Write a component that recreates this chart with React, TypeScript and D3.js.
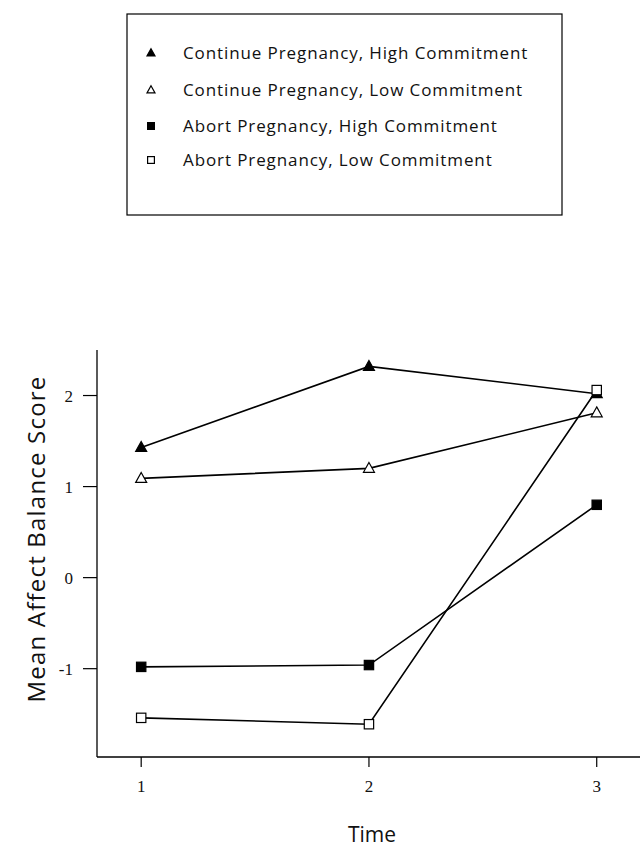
import React from 'react'
import * as d3 from 'd3'

// time points on the x axis
const times = [1, 2, 3]
const xTicks = [1, 2, 3]
const yTicks = [-1, 0, 1, 2]

// mean affect balance score per group
const continueHigh = [1.43, 2.32, 2.02]
const continueLow = [1.09, 1.20, 1.81]
const abortHigh = [-0.98, -0.96, 0.80]
const abortLow = [-1.54, -1.61, 2.06]

const seriesNames = [
    'Continue Pregnancy, High Commitment',
    'Continue Pregnancy, Low Commitment',
    'Abort Pregnancy, High Commitment',
    'Abort Pregnancy, Low Commitment',
]

const series = [
    { name: seriesNames[0], values: continueHigh, shape: 'triangle', filled: true },
    { name: seriesNames[1], values: continueLow, shape: 'triangle', filled: false },
    { name: seriesNames[2], values: abortHigh, shape: 'square', filled: true },
    { name: seriesNames[3], values: abortLow, shape: 'square', filled: false },
]

const Marker = ({ x, y, shape, filled, size }) => {
    const fill = filled ? '#000' : '#fff'
    if (shape === 'triangle') {
        const h = size * 0.9
        const pts = `${x},${y - h * 0.6} ${x + size / 2},${y + h * 0.4} ${x - size / 2},${y + h * 0.4}`
        return <polygon points={pts} fill={fill} stroke="#000" strokeWidth={1.2} />
    }
    const s = size * 0.85
    return <rect x={x - s / 2} y={y - s / 2} width={s} height={s} fill={fill} stroke="#000" strokeWidth={1.2} />
}

const App = () => {
    const width = 642
    const height = 848

    const axisLeft = 97
    const axisBottom = 757

    const xScale = d3.scaleLinear().domain([0.806, 3.19]).range([axisLeft, 640])
    const yScale = d3.scaleLinear().domain([-1.97, 2.5]).range([axisBottom, 350])

    const line = d3.line<number>()
        .x((d, i) => xScale(times[i]))
        .y(d => yScale(d))

    const sans = "'Open Sans', 'DejaVu Sans', sans-serif"
    const serif = "'Liberation Serif', 'DejaVu Serif', serif"

    // legend layout
    const legendX = 127, legendY = 14, legendW = 435, legendH = 201
    const legendRows = [53, 90, 126, 160]

    return (
        <svg width={width} height={height}
            style={{ position: 'absolute', left: 0, top: 0, background: '#fff' }}>
            <rect x={0} y={0} width={width} height={height} fill="#fff" />

            {/* Legend */}
            <rect x={legendX} y={legendY} width={legendW} height={legendH}
                fill="none" stroke="#000" strokeWidth={1.2} />
            {series.map((s, i) => (
                <g key={s.name}>
                    <Marker x={151} y={legendRows[i]} shape={s.shape} filled={s.filled} size={8} />
                    <text x={183} y={legendRows[i] + 6} fontFamily={sans} fontSize={17}
                        letterSpacing={0.9} fill="#111">{s.name}</text>
                </g>
            ))}

            {/* Axes */}
            <line x1={axisLeft} x2={axisLeft} y1={350} y2={axisBottom} stroke="#000" strokeWidth={1.3} />
            <line x1={axisLeft} x2={640} y1={axisBottom} y2={axisBottom} stroke="#000" strokeWidth={1.3} />
            {yTicks.map(t => (
                <g key={'y' + t}>
                    <line x1={83} x2={axisLeft} y1={yScale(t)} y2={yScale(t)} stroke="#000" strokeWidth={1.2} />
                    <text x={73} y={yScale(t) + 6} textAnchor="end" fontFamily={serif} fontSize={17}
                        fill="#111">{t}</text>
                </g>
            ))}
            {xTicks.map(t => (
                <g key={'x' + t}>
                    <line x1={xScale(t)} x2={xScale(t)} y1={axisBottom} y2={axisBottom + 10}
                        stroke="#000" strokeWidth={1.2} />
                    <text x={xScale(t)} y={792} textAnchor="middle" fontFamily={serif} fontSize={17}
                        fill="#111">{t}</text>
                </g>
            ))}

            {/* Axis titles */}
            <text x={372} y={842} textAnchor="middle" fontFamily={sans} fontSize={21} fill="#111">Time</text>
            <text transform="translate(45,539) rotate(-90)" textAnchor="middle" fontFamily={sans}
                fontSize={24} letterSpacing={1.2} fill="#111">Mean Affect Balance Score</text>

            {/* Lines */}
            {series.map(s => (
                <path key={'l' + s.name} d={line(s.values)} fill="none" stroke="#000" strokeWidth={1.6} />
            ))}
            {/* Markers */}
            {series.map(s => s.values.map((v, i) => (
                <Marker key={s.name + i} x={xScale(times[i])} y={yScale(v)}
                    shape={s.shape} filled={s.filled} size={11} />
            )))}
        </svg>
    )
}

export default App
